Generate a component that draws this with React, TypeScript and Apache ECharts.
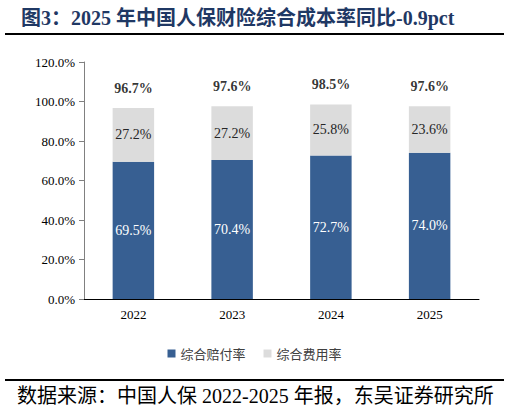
import React, { useEffect, useRef } from 'react';
import * as echarts from 'echarts';

// chart data
const years = ['2022', '2023', '2024', '2025'];
const lossRatio = [69.5, 70.4, 72.7, 74.0];      // 综合赔付率
const expenseRatio = [27.2, 27.2, 25.8, 23.6];   // 综合费用率
const combinedRatio = [96.7, 97.6, 98.5, 97.6];  // 综合成本率
const seriesNames = ['综合赔付率', '综合费用率'];

const SERIF = 'Liberation Serif, Noto Sans CJK SC, serif';

const App: React.FC = () => {
  const chartRef = useRef<HTMLDivElement>(null);

  useEffect(() => {
    if (!chartRef.current) return;
    const chart = echarts.init(chartRef.current, undefined, { renderer: 'svg' });

    const option = {
      animation: false,
      title: {
        text: '图3：2025 年中国人保财险综合成本率同比-0.9pct',
        left: 16,
        top: 3,
        textStyle: {
          fontFamily: SERIF,
          fontSize: 20,
          fontWeight: 'bold',
          color: '#1f3864',
        },
      },
      graphic: [
        { type: 'line', shape: { x1: 5, y1: 34, x2: 504, y2: 34 }, style: { stroke: '#000', lineWidth: 2 } },
        { type: 'line', shape: { x1: 5, y1: 380, x2: 504, y2: 380 }, style: { stroke: '#000', lineWidth: 2 } },
        {
          type: 'text',
          left: 17,
          top: 386,
          style: {
            text: '数据来源：中国人保 2022-2025 年报，东吴证券研究所',
            font: `20px ${SERIF}`,
            fill: '#000',
          },
        },
      ],
      legend: {
        data: seriesNames,
        top: 342,
        left: 'center',
        itemWidth: 8,
        itemHeight: 8,
        itemGap: 18,
        icon: 'rect',
        textStyle: { fontSize: 13, color: '#404040', fontFamily: 'Noto Sans CJK SC, sans-serif' },
      },
      grid: { left: 84, right: 30, top: 62, bottom: 114 },
      xAxis: {
        type: 'category',
        data: years,
        axisLine: { lineStyle: { color: '#000', width: 1 } },
        axisTick: { length: 4, lineStyle: { color: '#000' } },
        axisLabel: { fontFamily: SERIF, fontSize: 13, color: '#000', margin: 9 },
      },
      yAxis: {
        type: 'value',
        min: 0,
        max: 120,
        interval: 20,
        splitLine: { show: false },
        axisLine: { show: true, lineStyle: { color: '#808080' } },
        axisTick: { show: true, length: 5, lineStyle: { color: '#808080' } },
        axisLabel: {
          fontFamily: SERIF,
          fontSize: 13,
          color: '#000',
          margin: 9,
          formatter: (v: number) => v.toFixed(1) + '%',
        },
      },
      series: [
        {
          name: seriesNames[0],
          type: 'bar',
          stack: 'total',
          barWidth: '42%',
          data: lossRatio,
          itemStyle: { color: '#375f92' },
          label: {
            show: true,
            position: 'inside',
            fontFamily: SERIF,
            fontSize: 14,
            color: '#fff',
            formatter: (p: any) => p.value.toFixed(1) + '%',
          },
        },
        {
          name: seriesNames[1],
          type: 'bar',
          stack: 'total',
          barWidth: '42%',
          data: expenseRatio,
          itemStyle: { color: '#dcdcdc' },
          label: {
            show: true,
            position: 'inside',
            fontFamily: SERIF,
            fontSize: 14,
            color: '#262626',
            formatter: (p: any) => p.value.toFixed(1) + '%',
          },
        },
        {
          name: 'total',
          type: 'scatter',
          data: combinedRatio,
          symbolSize: 0,
          silent: true,
          label: {
            show: true,
            position: 'top',
            distance: 13,
            fontFamily: SERIF,
            fontSize: 14,
            fontWeight: 'bold',
            color: '#000',
            formatter: (p: any) => p.value.toFixed(1) + '%',
          },
        },
      ],
    };

    chart.setOption(option);
    return () => {
      chart.dispose();
    };
  }, []);

  return (
    <div
      ref={chartRef}
      style={{ position: 'absolute', left: 0, top: 0, width: 509, height: 413, background: '#fff' }}
    />
  );
};

export default App;
